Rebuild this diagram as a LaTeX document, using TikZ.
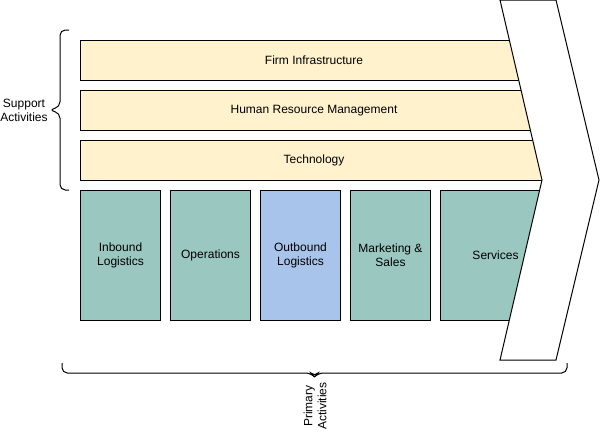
\documentclass[tikz,border=0pt]{standalone}
\usepackage{fontspec}
\setmainfont{Liberation Sans}
\definecolor{supportfill}{HTML}{FFF2CC}
\definecolor{primaryfill}{HTML}{9AC7BF}
\definecolor{outboundfill}{HTML}{A9C4EB}

\begin{document}
\begin{tikzpicture}[x=0.75pt, y=-0.75pt, line width=0.75pt,
    font=\fontsize{9}{10.5}\selectfont,
    support/.style={draw, fill=supportfill, anchor=north west, inner sep=0pt,
        minimum width=350.25pt, minimum height=30pt},
    primary/.style={draw, fill=primaryfill, anchor=north west, inner sep=0pt,
        align=center, minimum width=60pt, minimum height=97.5pt}]

    \useasboundingbox (0,0) rectangle (600,432);

    \node [support] (infra) at (80,40) {Firm Infrastructure};
    \node [support] (hrm) at (80,90) {Human Resource Management};
    \node [support] (tech) at (80,140) {Technology};

    \node [primary] (inbound) at (80,190) {Inbound\\Logistics};
    \node [primary] (operations) at (170,190) {Operations};
    \node [primary, fill=outboundfill] (outbound) at (260,190) {Outbound\\Logistics};
    \node [primary] (marketing) at (350,190) {Marketing \&\\Sales};
    \node [primary, minimum width=82.5pt] (services) at (440,190) {Services};

    % the margin arrow on top of the bars
    \draw [fill=white] (500,0) -- (556,0) -- (599,180) -- (556,360)
        -- (500,360) -- (542,180) -- cycle;

    \draw [rounded corners=4] (69,30) -- (60,30) -- (60,107) -- (49,110)
        -- (60,113) -- (60,190) -- (69,190);
    \node [align=center] (supportlabel) at (24,110) {Support\\Activities};

    \draw [rounded corners=4] (62,363) -- (62,373) -- (311,373) -- (314.5,377)
        -- (318,373) -- (567,373) -- (567,363);
    \node [align=center, rotate=90] (primarylabel) at (315,406) {Primary\\Activities};

\end{tikzpicture}
\end{document}
